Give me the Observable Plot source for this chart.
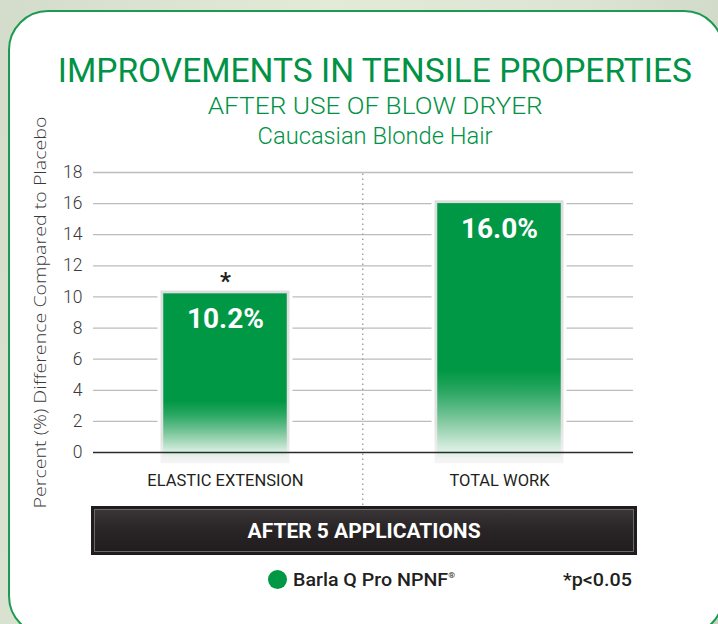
<!DOCTYPE html>
<html>
<head>
<meta charset="utf-8">
<script src="https://cdn.jsdelivr.net/npm/d3@7"></script>
<script src="https://cdn.jsdelivr.net/npm/@observablehq/plot@0.6"></script>
<style>
  html, body { margin: 0; padding: 0; }
  body { width: 718px; height: 624px; overflow: hidden; font-family: Roboto, "Noto Sans", sans-serif; }
  #page { position: relative; width: 718px; height: 624px; overflow: hidden;
    background: linear-gradient(100deg, #d3dccb 0%, #e4ead8 40%, #dde4d3 70%, #c9d2c2 100%); }
  #card { position: absolute; left: 8px; top: 10px; width: 716px; height: 626px; box-sizing: border-box;
    border: 2px solid #1d9a52; border-radius: 40px; background: #fff; }
  .ttl { position: absolute; left: 0; width: 750px; text-align: center; line-height: 1; white-space: nowrap; color: #009245; }
  .ttl span { display: inline-block; transform-origin: 50% 50%; }
  #chart { position: absolute; left: 0; top: 155px; }
  #banner { position: absolute; left: 91px; top: 506px; width: 546px; height: 49px; box-sizing: border-box;
    background: linear-gradient(#3d393a 0%, #2a2627 45%, #1f1b1c 100%);
    box-shadow: inset 0 0 0 3px #201c1d, inset 0 0 0 4px #6b6869;
    display: flex; align-items: center; justify-content: center; color: #fff; font-weight: 700; font-size: 20px; }
  #banner span { display: inline-block; transform-origin: 50% 50%; }
  .leg { position: absolute; line-height: 1; white-space: nowrap; color: #231f20; font-weight: 500; font-size: 18px; }
  .leg span { display: inline-block; transform-origin: 0 50%; }
  #dot { position: absolute; left: 268px; top: 570px; width: 19px; height: 19px; border-radius: 50%; background: #009845; }
  sup { font-size: 8px; vertical-align: 8px; }
</style>
</head>
<body>
<div id="page">
  <div id="card"></div>
  <div class="ttl" id="t1" style="top:54px;font-size:33px;font-weight:400;"><span>IMPROVEMENTS IN TENSILE PROPERTIES</span></div>
  <div class="ttl" id="t2" style="top:95px;font-size:23.5px;font-weight:300;"><span>AFTER USE OF BLOW DRYER</span></div>
  <div class="ttl" id="t3" style="top:125px;font-size:23px;font-weight:300;"><span>Caucasian Blonde Hair</span></div>
  <div id="chart"></div>
  <div id="banner"><span id="bannerText">AFTER 5 APPLICATIONS</span></div>
  <div id="dot"></div>
  <div class="leg" id="leg1" style="left:293px;top:571px;"><span>Barla Q Pro NPNF<sup>®</sup></span></div>
  <div class="leg" id="leg2" style="left:563px;top:571px;"><span>*p&lt;0.05</span></div>
</div>
<script>
// ---- data ----
const categories = ["ELASTIC EXTENSION", "TOTAL WORK"];
const values = [10.2, 16.0];
const valueLabels = ["10.2%", "16.0%"];
const significance = ["*", ""];
const yTicks = [0, 2, 4, 6, 8, 10, 12, 14, 16, 18];
const yLabel = "Percent (%) Difference Compared to Placebo";

const data = categories.map((c, i) => ({category: c, value: values[i], label: valueLabels[i], sig: significance[i]}));

const green = "#009845";

const chart = Plot.plot({
  width: 718,
  height: 350,
  marginTop: 17,
  marginBottom: 53,
  marginLeft: 87,
  marginRight: 82,
  style: {fontFamily: "Roboto, sans-serif", background: "transparent", overflow: "visible", color: "#2b2b2b"},
  x: {domain: categories, padding: 0},
  y: {domain: [0, 18]},
  marks: [
    Plot.ruleY(yTicks.filter(d => d > 0), {stroke: "#bcbcbc", strokeWidth: 1.3, insetLeft: 6, insetRight: 3}),
    Plot.ruleX([categories[0]], {y1: -3.4, y2: 18, dx: 137.25, stroke: "#a0a0a0", strokeWidth: 1.4, strokeDasharray: "1.4,3.6"}),
    Plot.barY(data, {x: "category", y1: -0.72, y2: d => d.value + 0.38, fill: "white", insetLeft: 69.5, insetRight: 69.5}),
    Plot.barY(data, {x: "category", y1: -0.72, y2: d => d.value + 0.18, fill: "url(#grayGrad)", insetLeft: 72.5, insetRight: 72.5}),
    Plot.barY(data, {x: "category", y1: -0.33, y2: "value", fill: "url(#greenGrad)", insetLeft: 75.25, insetRight: 75.25}),
    Plot.ruleY([0], {stroke: "#2b2b2b", strokeWidth: 1.3, insetLeft: 6, insetRight: 3}),
    Plot.text(data, {x: "category", y: "value", text: "label", dy: 25, fill: "white", fontSize: 28, fontWeight: 700, className: "vlab"}),
    Plot.text(data, {x: "category", y: "value", text: "sig", dy: -13, fill: "#231f20", fontSize: 24, fontWeight: 700}),
    Plot.axisY(yTicks, {tickSize: 0, tickPadding: 5, fontSize: 17.5, fontWeight: 300, label: null, fill: "#3a3a3a"}),
    Plot.axisX({tickSize: 0, tickPadding: 22, fontSize: 16.5, label: null, fill: "#231f20", className: "xlab"}),
    Plot.text([yLabel], {text: d => d, frameAnchor: "left", textAnchor: "middle", rotate: -90, dx: -47, fontSize: 16.5, fontWeight: 300, fill: "#3a3a3a", fontFamily: "'Open Sans', 'Noto Sans', sans-serif", className: "ylab"})
  ]
});

// gradients
const svgEl = chart.tagName.toLowerCase() === "svg" ? chart : chart.querySelector("svg");
const svg = d3.select(svgEl);
const defs = svg.insert("defs", ":first-child");
const gg = defs.append("linearGradient").attr("id", "greenGrad").attr("x1", 0).attr("y1", 0).attr("x2", 0).attr("y2", 1);
[[0, green], [0.66, green], [0.74, "#2aa762"], [0.82, "#63bd8b"], [0.9, "#a3d7b8"], [0.96, "#d3ecdd"], [1, "#e6f4ec"]]
  .forEach(([o, c]) => gg.append("stop").attr("offset", o).attr("stop-color", c));
const gr = defs.append("linearGradient").attr("id", "grayGrad").attr("x1", 0).attr("y1", 0).attr("x2", 0).attr("y2", 1);
[[0, "#dddddd"], [0.85, "#e2e2e2"], [1, "#f4f5f4"]]
  .forEach(([o, c]) => gr.append("stop").attr("offset", o).attr("stop-color", c));

document.getElementById("chart").appendChild(chart);

// condensed look: fit text to measured widths
svg.selectAll(".vlab text").attr("textLength", 77).attr("lengthAdjust", "spacingAndGlyphs");
svg.selectAll(".ylab text").attr("textLength", 392).attr("lengthAdjust", "spacingAndGlyphs");
function fit(sel, target) {
  const s = document.querySelector(sel);
  const w = s.getBoundingClientRect().width;
  s.style.transform = `scaleX(${target / w})`;
}
fit("#t1 span", 634);
fit("#t2 span", 335);
fit("#t3 span", 235);
fit("#bannerText", 233);
fit("#leg1 span", 162);
fit("#leg2 span", 69);
</script>
</body>
</html>
